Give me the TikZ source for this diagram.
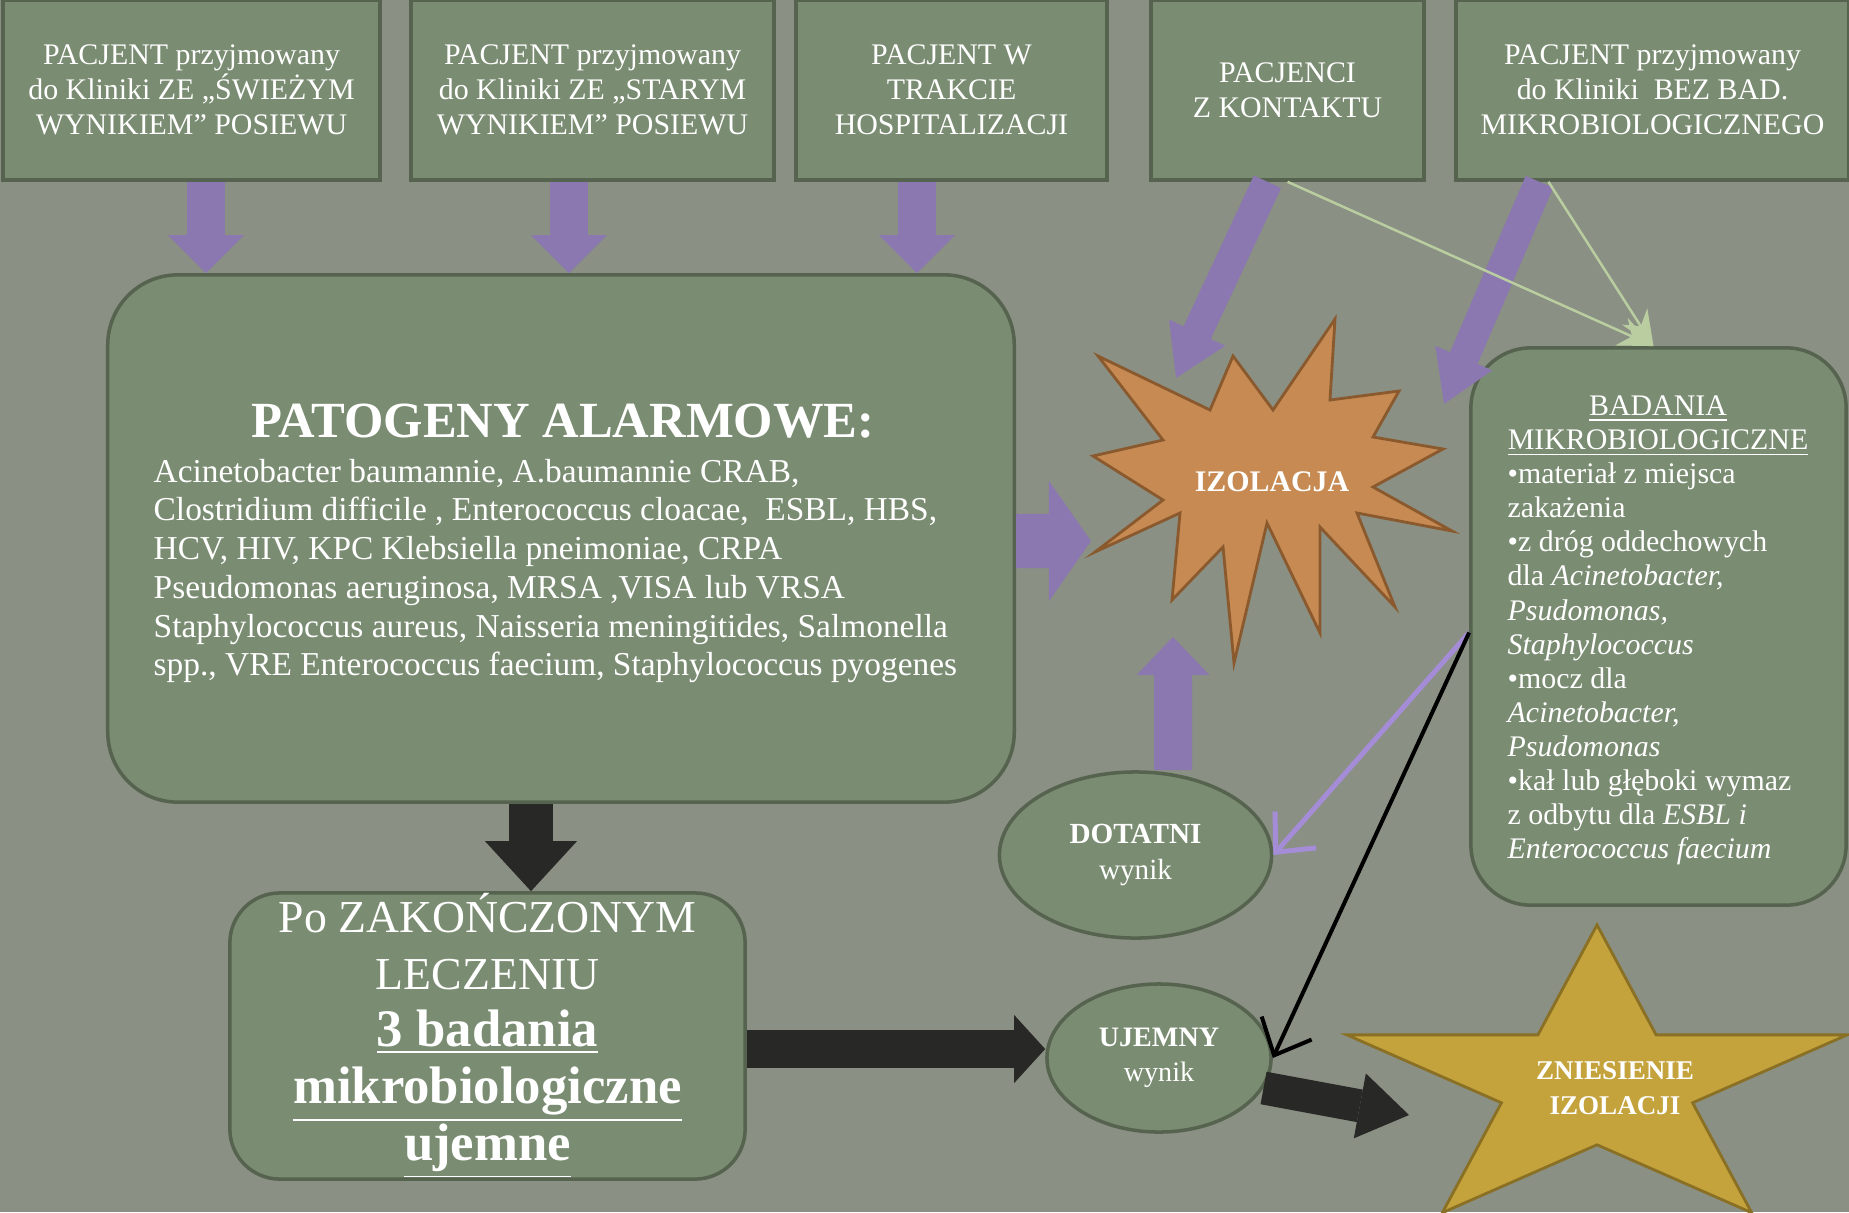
\documentclass[tikz,border=0pt]{standalone}
\usepackage{fontspec}
\setmainfont{Liberation Serif}
\usetikzlibrary{arrows.meta, shapes.geometric}
\definecolor{bgcol}{HTML}{8A9083}
\definecolor{boxfill}{HTML}{7A8C72}
\definecolor{boxline}{HTML}{56644F}
\definecolor{izol}{HTML}{C68A52}
\definecolor{izolline}{HTML}{8A5A2E}
\definecolor{gold}{HTML}{C4A33C}
\definecolor{goldline}{HTML}{8A7024}
\definecolor{purp}{HTML}{8C78B0}
\definecolor{lilac}{HTML}{A58CD7}
\definecolor{pale}{HTML}{B9CDA0}
\definecolor{dark}{HTML}{282826}

\begin{document}
\begin{tikzpicture}[x=0.01cm, y=-0.01cm,
    every node/.style={text=white, inner sep=0pt},
    topbox/.style={draw=boxline, fill=boxfill, line width=1pt, minimum height=1.8cm,
      align=center, font=\fontsize{8.5}{10}\selectfont},
    bigbox/.style={draw=boxline, fill=boxfill, line width=1pt, rounded corners=0.7cm},
    wynik/.style={ellipse, draw=boxline, fill=boxfill, line width=1pt, align=center,
      font=\fontsize{8.3}{10.4}\selectfont},
    blockarrow/.style n args={3}{line width=#1, -{Triangle[width=#2, length=#3, line width=0pt]}},
    slimarrow/.style={line width=0.05cm, -{Straight Barb[length=0.3cm, width=0.55cm]}}]
  \fill[bgcol] (0,0) rectangle (1849,1212);
  \useasboundingbox (0,0) rectangle (1849,1212);

  % top row
  \node[topbox, minimum width=3.77cm] (swiezy) at (191.5,90) {PACJENT przyjmowany\\do Kliniki ZE „ŚWIEŻYM\\WYNIKIEM” POSIEWU};
  \node[topbox, minimum width=3.63cm] (stary) at (592.5,90) {PACJENT przyjmowany\\do Kliniki ZE „STARYM\\WYNIKIEM” POSIEWU};
  \node[topbox, minimum width=3.11cm] (hosp) at (951.5,90) {PACJENT W\\TRAKCIE\\HOSPITALIZACJI};
  \node[topbox, minimum width=2.73cm] (kontakt) at (1287.5,90) {PACJENCI\\Z KONTAKTU};
  \node[topbox, minimum width=3.93cm] (bezbad) at (1652.5,90) {PACJENT przyjmowany\\do Kliniki~ BEZ BAD.\\MIKROBIOLOGICZNEGO};

  % patogeny
  \node[bigbox, minimum width=9.06cm, minimum height=5.27cm] (pato) at (561,538.5) {};
  \node[font=\bfseries\fontsize{14.4}{16}\selectfont] (patotit) at (563,421) {PATOGENY ALARMOWE:};
  \node[anchor=west, align=left, font=\fontsize{9.5}{11}\selectfont] (patolist) at (153,571)
    {Acinetobacter baumannie, A.baumannie CRAB,\\
     Clostridium difficile , Enterococcus cloacae,~ ESBL, HBS,\\
     HCV, HIV, KPC Klebsiella pneimoniae, CRPA\\
     Pseudomonas aeruginosa, MRSA ,VISA lub VRSA\\
     Staphylococcus aureus, Naisseria meningitides, Salmonella\\
     spp., VRE Enterococcus faecium, Staphylococcus pyogenes};

  % badania
  \node[bigbox, rounded corners=0.6cm, minimum width=3.75cm, minimum height=5.57cm] (badania) at (1658.5,626.5) {};
  \node[align=center, font=\fontsize{8.5}{9.7}\selectfont] (badtit) at (1658,426) {\underline{BADANIA}\\\underline{MIKROBIOLOGICZNE}};
  \node[anchor=west, align=left, font=\fontsize{8.5}{9.7}\selectfont] (badlist) at (1507,664)
    {•materiał z miejsca\\zakażenia\\•z dróg oddechowych\\dla \textit{Acinetobacter,}\\
     \textit{Psudomonas,}\\\textit{Staphylococcus}\\•mocz dla\\\textit{Acinetobacter,}\\
     \textit{Psudomonas}\\•kał lub głęboki wymaz\\z odbytu dla \textit{ESBL i}\\\textit{Enterococcus faecium}};

  % po leczeniu
  \node[bigbox, rounded corners=0.5cm, minimum width=5.15cm, minimum height=2.86cm, align=center,
    font=\fontsize{13}{16.2}\selectfont] (leczenie) at (487.5,1036)
    {Po ZAKOŃCZONYM\\LECZENIU\\{\fontsize{15}{16.2}\selectfont\bfseries\underline{3 badania}}\\
     {\fontsize{15}{16.2}\selectfont\bfseries\underline{mikrobiologiczne}}\\
     {\fontsize{15}{16.2}\selectfont\bfseries\underline{ujemne}}};

  % gwiazdy
  \draw[draw=izolline, fill=izol, line width=0.8pt, line join=miter]
    (1335,319) -- (1330,400) -- (1399,391) -- (1373,437) -- (1443,449) -- (1373,487)
    -- (1452,531) -- (1357,513) -- (1395,607) -- (1320,527) -- (1320,633) -- (1267,523)
    -- (1234,663) -- (1223,547) -- (1172,600) -- (1180,513) -- (1095,552) -- (1163,500)
    -- (1093,456) -- (1163,440) -- (1098,356) -- (1210,410) -- (1233,356) -- (1273,410) -- cycle;
  \node[font=\bfseries\fontsize{8.5}{10}\selectfont] (izolacja) at (1272,482) {IZOLACJA};
  \begin{scope}[shift={(1597,1084)}, xscale=1.654]
    \node[star, star points=5, star point ratio=2.618, minimum size=3.18cm, transform shape,
      draw=goldline, fill=gold, line width=0.8pt] (gwiazda) {};
  \end{scope}
  \node[align=center, font=\bfseries\fontsize{7.7}{10}\selectfont] (zniesienie) at (1615,1088) {ZNIESIENIE\\IZOLACJI};

  % wyniki
  \node[wynik, minimum width=2.72cm, minimum height=1.66cm] (dodatni) at (1135.5,855) {\textbf{DOTATNI}\\wynik};
  \node[wynik, minimum width=2.24cm, minimum height=1.48cm, font=\fontsize{8}{10}\selectfont] (ujemny) at (1159,1058) {\textbf{UJEMNY}\\wynik};

  \coordinate (izolw) at (1091,541);
  \coordinate (kontaktgrot) at (1176,378);
  \coordinate (bezbadgrot) at (1444,404);
  \coordinate (dodgrot) at (1173,637);
  \coordinate (zngrot) at (1409,1115);

  % strzalki
  \draw[blockarrow={0.38cm}{0.76cm}{0.38cm}, purp] ([xshift=0.145cm]swiezy.south) -- ([xshift=0.145cm]swiezy.south |- pato.north);
  \draw[blockarrow={0.38cm}{0.76cm}{0.38cm}, purp] ([xshift=-0.235cm]stary.south) -- ([xshift=-0.235cm]stary.south |- pato.north);
  \draw[blockarrow={0.38cm}{0.76cm}{0.38cm}, purp] ([xshift=-0.345cm]hosp.south) -- ([xshift=-0.345cm]hosp.south |- pato.north);
  \draw[blockarrow={0.54cm}{1.2cm}{0.42cm}, purp] ([yshift=-0.025cm]pato.east) -- (izolw);
  \draw[blockarrow={0.3cm}{0.62cm}{0.5cm}, purp] ([xshift=-0.2cm]kontakt.south) -- (kontaktgrot);
  \draw[blockarrow={0.3cm}{0.62cm}{0.5cm}, purp] ([xshift=-1.13cm]bezbad.south) -- (bezbadgrot);
  \draw[blockarrow={0.38cm}{0.73cm}{0.38cm}, purp] ([xshift=0.375cm]dodatni.north) -- (dodgrot);
  \draw[pale, line width=0.025cm, -{Stealth[length=0.35cm, width=0.3cm]}] (kontakt.south) -- ([xshift=-0.05cm]badania.north);
  \draw[pale, line width=0.025cm, -{Stealth[length=0.35cm, width=0.3cm]}] ([xshift=-1.04cm]bezbad.south) -- ([xshift=-0.05cm]badania.north);
  \draw[slimarrow, lilac] ([yshift=-0.06cm]badania.west) -- (dodatni.east);
  \draw[slimarrow, black, line width=0.04cm] ([yshift=-0.06cm]badania.west) -- (ujemny.east);
  \draw[blockarrow={0.44cm}{0.92cm}{0.5cm}, dark] ([xshift=-0.3cm]pato.south) -- ([xshift=-0.3cm]pato.south |- leczenie.north);
  \draw[blockarrow={0.38cm}{0.68cm}{0.31cm}, dark] ([yshift=-0.13cm]leczenie.east) -- ([yshift=-0.13cm]leczenie.east -| ujemny.west);
  \draw[blockarrow={0.33cm}{0.66cm}{0.5cm}, dark] (ujemny.-16) -- (zngrot);
\end{tikzpicture}
\end{document}
